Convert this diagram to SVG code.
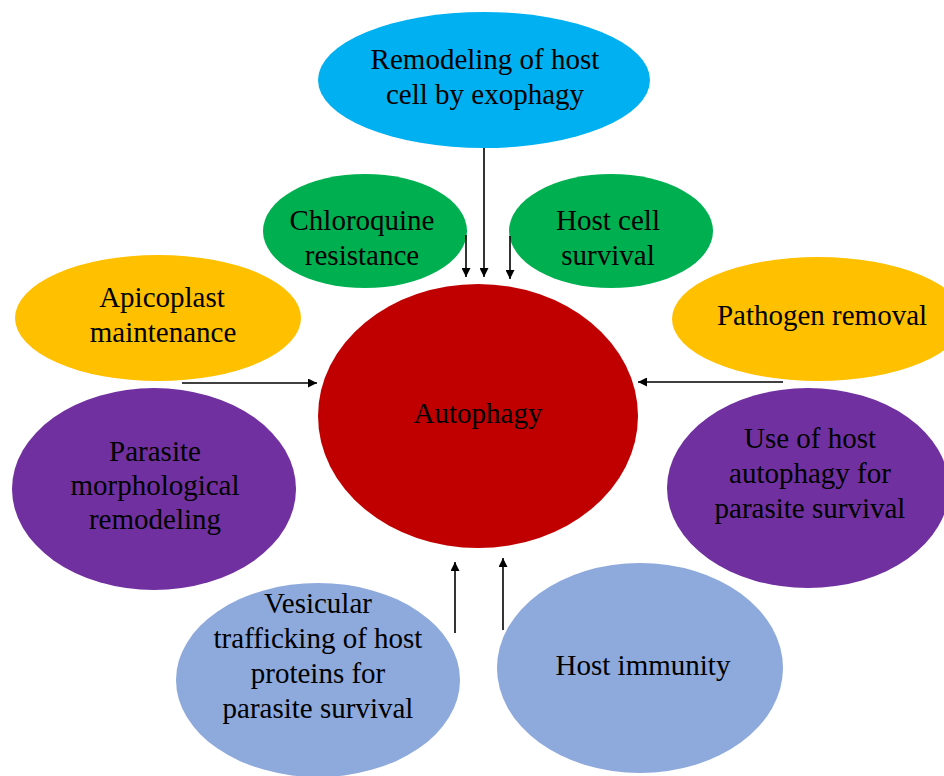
<svg xmlns="http://www.w3.org/2000/svg" width="944" height="776" viewBox="0 0 944 776">
<defs>
<style>
text{font-family:"Liberation Serif","Times New Roman",serif;font-size:29px;fill:#000;text-anchor:middle}
.c{stroke:#000;stroke-width:1.6;fill:none}
</style>
<marker id="ah" viewBox="0 0 10 10" refX="10" refY="5" markerWidth="9" markerHeight="9" orient="auto" markerUnits="userSpaceOnUse">
<path d="M0,0 L10,5 L0,10 z" fill="#000"/>
</marker>
</defs>
<rect width="944" height="776" fill="#fff"/>
<g id="exophagy"><ellipse cx="484" cy="80" rx="166" ry="68" fill="#00B0F0"/><text x="485" y="69">Remodeling of host</text><text x="485" y="104">cell by exophagy</text></g>
<g id="chloroquine"><ellipse cx="365" cy="231" rx="102" ry="57" fill="#00B050"/><text x="362" y="230">Chloroquine</text><text x="362" y="265">resistance</text></g>
<g id="hostcell"><ellipse cx="611" cy="231" rx="102" ry="57" fill="#00B050"/><text x="608" y="230">Host cell</text><text x="608" y="265">survival</text></g>
<g id="apicoplast"><ellipse cx="158" cy="318" rx="143" ry="63" fill="#FFC000"/><text x="162" y="307">Apicoplast</text><text x="163" y="342">maintenance</text></g>
<g id="pathogen"><ellipse cx="818" cy="319" rx="146" ry="62" fill="#FFC000"/><text x="822" y="325">Pathogen removal</text></g>
<g id="autophagy"><ellipse cx="478" cy="416" rx="160" ry="132" fill="#C00000"/><text x="478" y="423">Autophagy</text></g>
<g id="parasite-morph"><ellipse cx="154" cy="489" rx="142" ry="101" fill="#7030A0"/><text x="155" y="461">Parasite</text><text x="155" y="495">morphological</text><text x="155" y="529">remodeling</text></g>
<g id="use-host"><ellipse cx="808" cy="488" rx="141" ry="100" fill="#7030A0"/><text x="810" y="448">Use of host</text><text x="810" y="483">autophagy for</text><text x="810" y="518">parasite survival</text></g>
<g id="vesicular"><ellipse cx="318" cy="680" rx="142" ry="97" fill="#8EA9DB"/><text x="318" y="613">Vesicular</text><text x="318" y="648">trafficking of host</text><text x="318" y="683">proteins for</text><text x="318" y="718">parasite survival</text></g>
<g id="immunity"><ellipse cx="640" cy="668" rx="143" ry="105" fill="#8EA9DB"/><text x="643" y="675">Host immunity</text></g>
<g id="connectors">
<line class="c" x1="484" y1="148" x2="484" y2="277" marker-end="url(#ah)"/>
<line class="c" x1="466" y1="235" x2="466" y2="277" marker-end="url(#ah)"/>
<line class="c" x1="510" y1="236" x2="510" y2="279" marker-end="url(#ah)"/>
<line class="c" x1="182" y1="383" x2="317" y2="383" marker-end="url(#ah)"/>
<line class="c" x1="783" y1="382" x2="638" y2="382" marker-end="url(#ah)"/>
<line class="c" x1="455" y1="633" x2="455" y2="562" marker-end="url(#ah)"/>
<line class="c" x1="503" y1="630" x2="503" y2="558" marker-end="url(#ah)"/>
</g>
</svg>
